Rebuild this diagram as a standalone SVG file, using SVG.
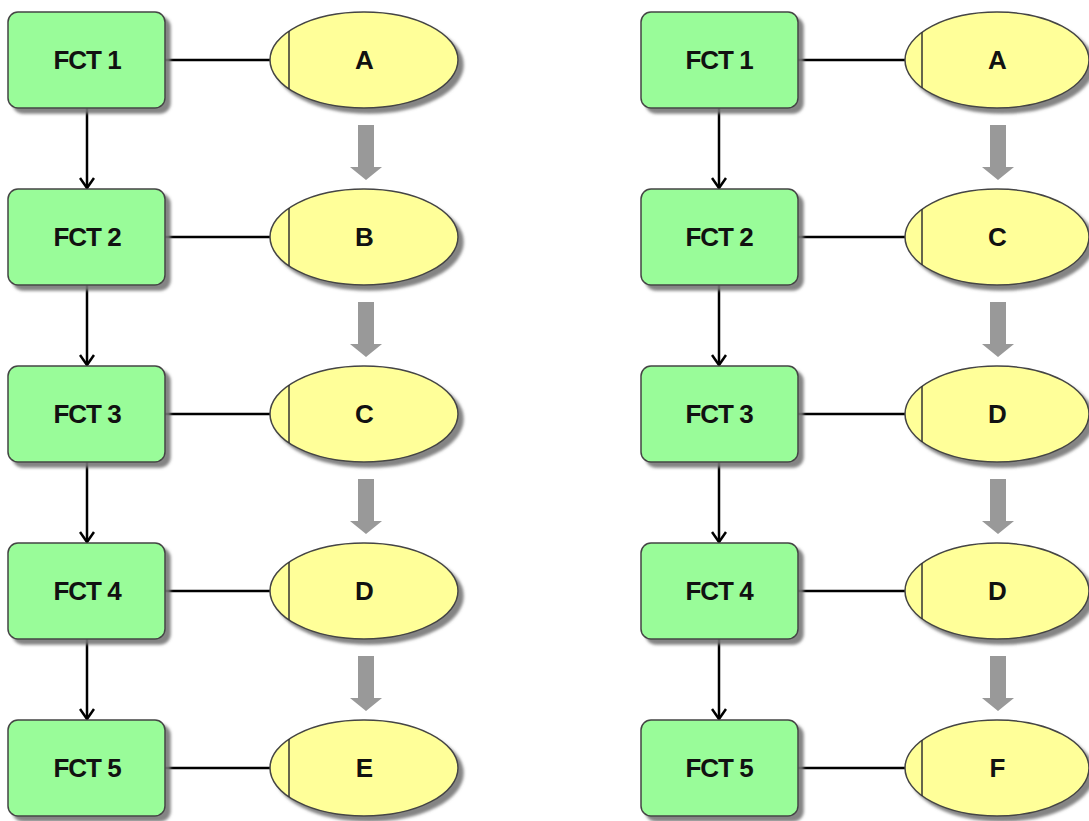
<svg xmlns="http://www.w3.org/2000/svg" width="1089" height="821" viewBox="0 0 1089 821">
<style>
.box{fill:#99fc99;stroke:#444;stroke-width:1.5}
.ell{fill:#ffff99;stroke:#444;stroke-width:1.5}
.div{stroke:#333;stroke-width:1.5}
.t{font-family:"Liberation Sans",Arial,sans-serif;font-weight:bold;font-size:26px;fill:#111;text-anchor:middle;dominant-baseline:central;letter-spacing:-1px}
.ln{stroke:#000;stroke-width:2.5;fill:none}
.fl{fill:#999}
</style>
<defs>
<filter id="sh" x="-10%" y="-10%" width="130%" height="130%">
<feDropShadow dx="5" dy="5" stdDeviation="1.5" flood-color="#777" flood-opacity="0.9"/>
</filter>
<marker id="ah" markerWidth="18" markerHeight="16" refX="11" refY="8" orient="auto" markerUnits="userSpaceOnUse">
<path d="M1,1 L11,8 L1,15" fill="none" stroke="#000" stroke-width="2.5"/>
</marker>
<g id="ga"><path class="fl" d="M-8,0 H8 V42 H16 L0,55 L-16,42 H-8 Z"/></g>
</defs>
<g id="connectors">
<line class="ln" x1="165" y1="60" x2="270" y2="60"/>
<line class="ln" x1="165" y1="237" x2="270" y2="237"/>
<line class="ln" x1="165" y1="414" x2="270" y2="414"/>
<line class="ln" x1="165" y1="591" x2="270" y2="591"/>
<line class="ln" x1="165" y1="768" x2="270" y2="768"/>
<line class="ln" x1="87" y1="108" x2="87" y2="188" marker-end="url(#ah)"/>
<line class="ln" x1="87" y1="285" x2="87" y2="365" marker-end="url(#ah)"/>
<line class="ln" x1="87" y1="462" x2="87" y2="542" marker-end="url(#ah)"/>
<line class="ln" x1="87" y1="639" x2="87" y2="719" marker-end="url(#ah)"/>
<use href="#ga" x="366" y="125"/>
<use href="#ga" x="366" y="302"/>
<use href="#ga" x="366" y="479"/>
<use href="#ga" x="366" y="656"/>
<line class="ln" x1="798" y1="60" x2="905" y2="60"/>
<line class="ln" x1="798" y1="237" x2="905" y2="237"/>
<line class="ln" x1="798" y1="414" x2="905" y2="414"/>
<line class="ln" x1="798" y1="591" x2="905" y2="591"/>
<line class="ln" x1="798" y1="768" x2="905" y2="768"/>
<line class="ln" x1="719" y1="108" x2="719" y2="188" marker-end="url(#ah)"/>
<line class="ln" x1="719" y1="285" x2="719" y2="365" marker-end="url(#ah)"/>
<line class="ln" x1="719" y1="462" x2="719" y2="542" marker-end="url(#ah)"/>
<line class="ln" x1="719" y1="639" x2="719" y2="719" marker-end="url(#ah)"/>
<use href="#ga" x="998" y="125"/>
<use href="#ga" x="998" y="302"/>
<use href="#ga" x="998" y="479"/>
<use href="#ga" x="998" y="656"/>
</g>
<g id="L-fct1"><rect class="box" x="8" y="12" width="157" height="96" rx="10" filter="url(#sh)"/><text class="t" x="87" y="60">FCT 1</text></g>
<g id="L-fct2"><rect class="box" x="8" y="189" width="157" height="96" rx="10" filter="url(#sh)"/><text class="t" x="87" y="237">FCT 2</text></g>
<g id="L-fct3"><rect class="box" x="8" y="366" width="157" height="96" rx="10" filter="url(#sh)"/><text class="t" x="87" y="414">FCT 3</text></g>
<g id="L-fct4"><rect class="box" x="8" y="543" width="157" height="96" rx="10" filter="url(#sh)"/><text class="t" x="87" y="591">FCT 4</text></g>
<g id="L-fct5"><rect class="box" x="8" y="720" width="157" height="96" rx="10" filter="url(#sh)"/><text class="t" x="87" y="768">FCT 5</text></g>
<g id="L-A"><ellipse class="ell" cx="364" cy="60" rx="94" ry="48" filter="url(#sh)"/><line class="div" x1="289" y1="31" x2="289" y2="89"/><text class="t" x="364" y="60">A</text></g>
<g id="L-B"><ellipse class="ell" cx="364" cy="237" rx="94" ry="48" filter="url(#sh)"/><line class="div" x1="289" y1="208" x2="289" y2="266"/><text class="t" x="364" y="237">B</text></g>
<g id="L-C"><ellipse class="ell" cx="364" cy="414" rx="94" ry="48" filter="url(#sh)"/><line class="div" x1="289" y1="385" x2="289" y2="443"/><text class="t" x="364" y="414">C</text></g>
<g id="L-D"><ellipse class="ell" cx="364" cy="591" rx="94" ry="48" filter="url(#sh)"/><line class="div" x1="289" y1="562" x2="289" y2="620"/><text class="t" x="364" y="591">D</text></g>
<g id="L-E"><ellipse class="ell" cx="364" cy="768" rx="94" ry="48" filter="url(#sh)"/><line class="div" x1="289" y1="739" x2="289" y2="797"/><text class="t" x="364" y="768">E</text></g>
<g id="R-fct1"><rect class="box" x="641" y="12" width="157" height="96" rx="10" filter="url(#sh)"/><text class="t" x="719" y="60">FCT 1</text></g>
<g id="R-fct2"><rect class="box" x="641" y="189" width="157" height="96" rx="10" filter="url(#sh)"/><text class="t" x="719" y="237">FCT 2</text></g>
<g id="R-fct3"><rect class="box" x="641" y="366" width="157" height="96" rx="10" filter="url(#sh)"/><text class="t" x="719" y="414">FCT 3</text></g>
<g id="R-fct4"><rect class="box" x="641" y="543" width="157" height="96" rx="10" filter="url(#sh)"/><text class="t" x="719" y="591">FCT 4</text></g>
<g id="R-fct5"><rect class="box" x="641" y="720" width="157" height="96" rx="10" filter="url(#sh)"/><text class="t" x="719" y="768">FCT 5</text></g>
<g id="R-A"><ellipse class="ell" cx="997" cy="60" rx="92" ry="48" filter="url(#sh)"/><line class="div" x1="922" y1="32" x2="922" y2="88"/><text class="t" x="997" y="60">A</text></g>
<g id="R-C"><ellipse class="ell" cx="997" cy="237" rx="92" ry="48" filter="url(#sh)"/><line class="div" x1="922" y1="209" x2="922" y2="265"/><text class="t" x="997" y="237">C</text></g>
<g id="R-D1"><ellipse class="ell" cx="997" cy="414" rx="92" ry="48" filter="url(#sh)"/><line class="div" x1="922" y1="386" x2="922" y2="442"/><text class="t" x="997" y="414">D</text></g>
<g id="R-D2"><ellipse class="ell" cx="997" cy="591" rx="92" ry="48" filter="url(#sh)"/><line class="div" x1="922" y1="563" x2="922" y2="619"/><text class="t" x="997" y="591">D</text></g>
<g id="R-F"><ellipse class="ell" cx="997" cy="768" rx="92" ry="48" filter="url(#sh)"/><line class="div" x1="922" y1="740" x2="922" y2="796"/><text class="t" x="997" y="768">F</text></g>
</svg>
